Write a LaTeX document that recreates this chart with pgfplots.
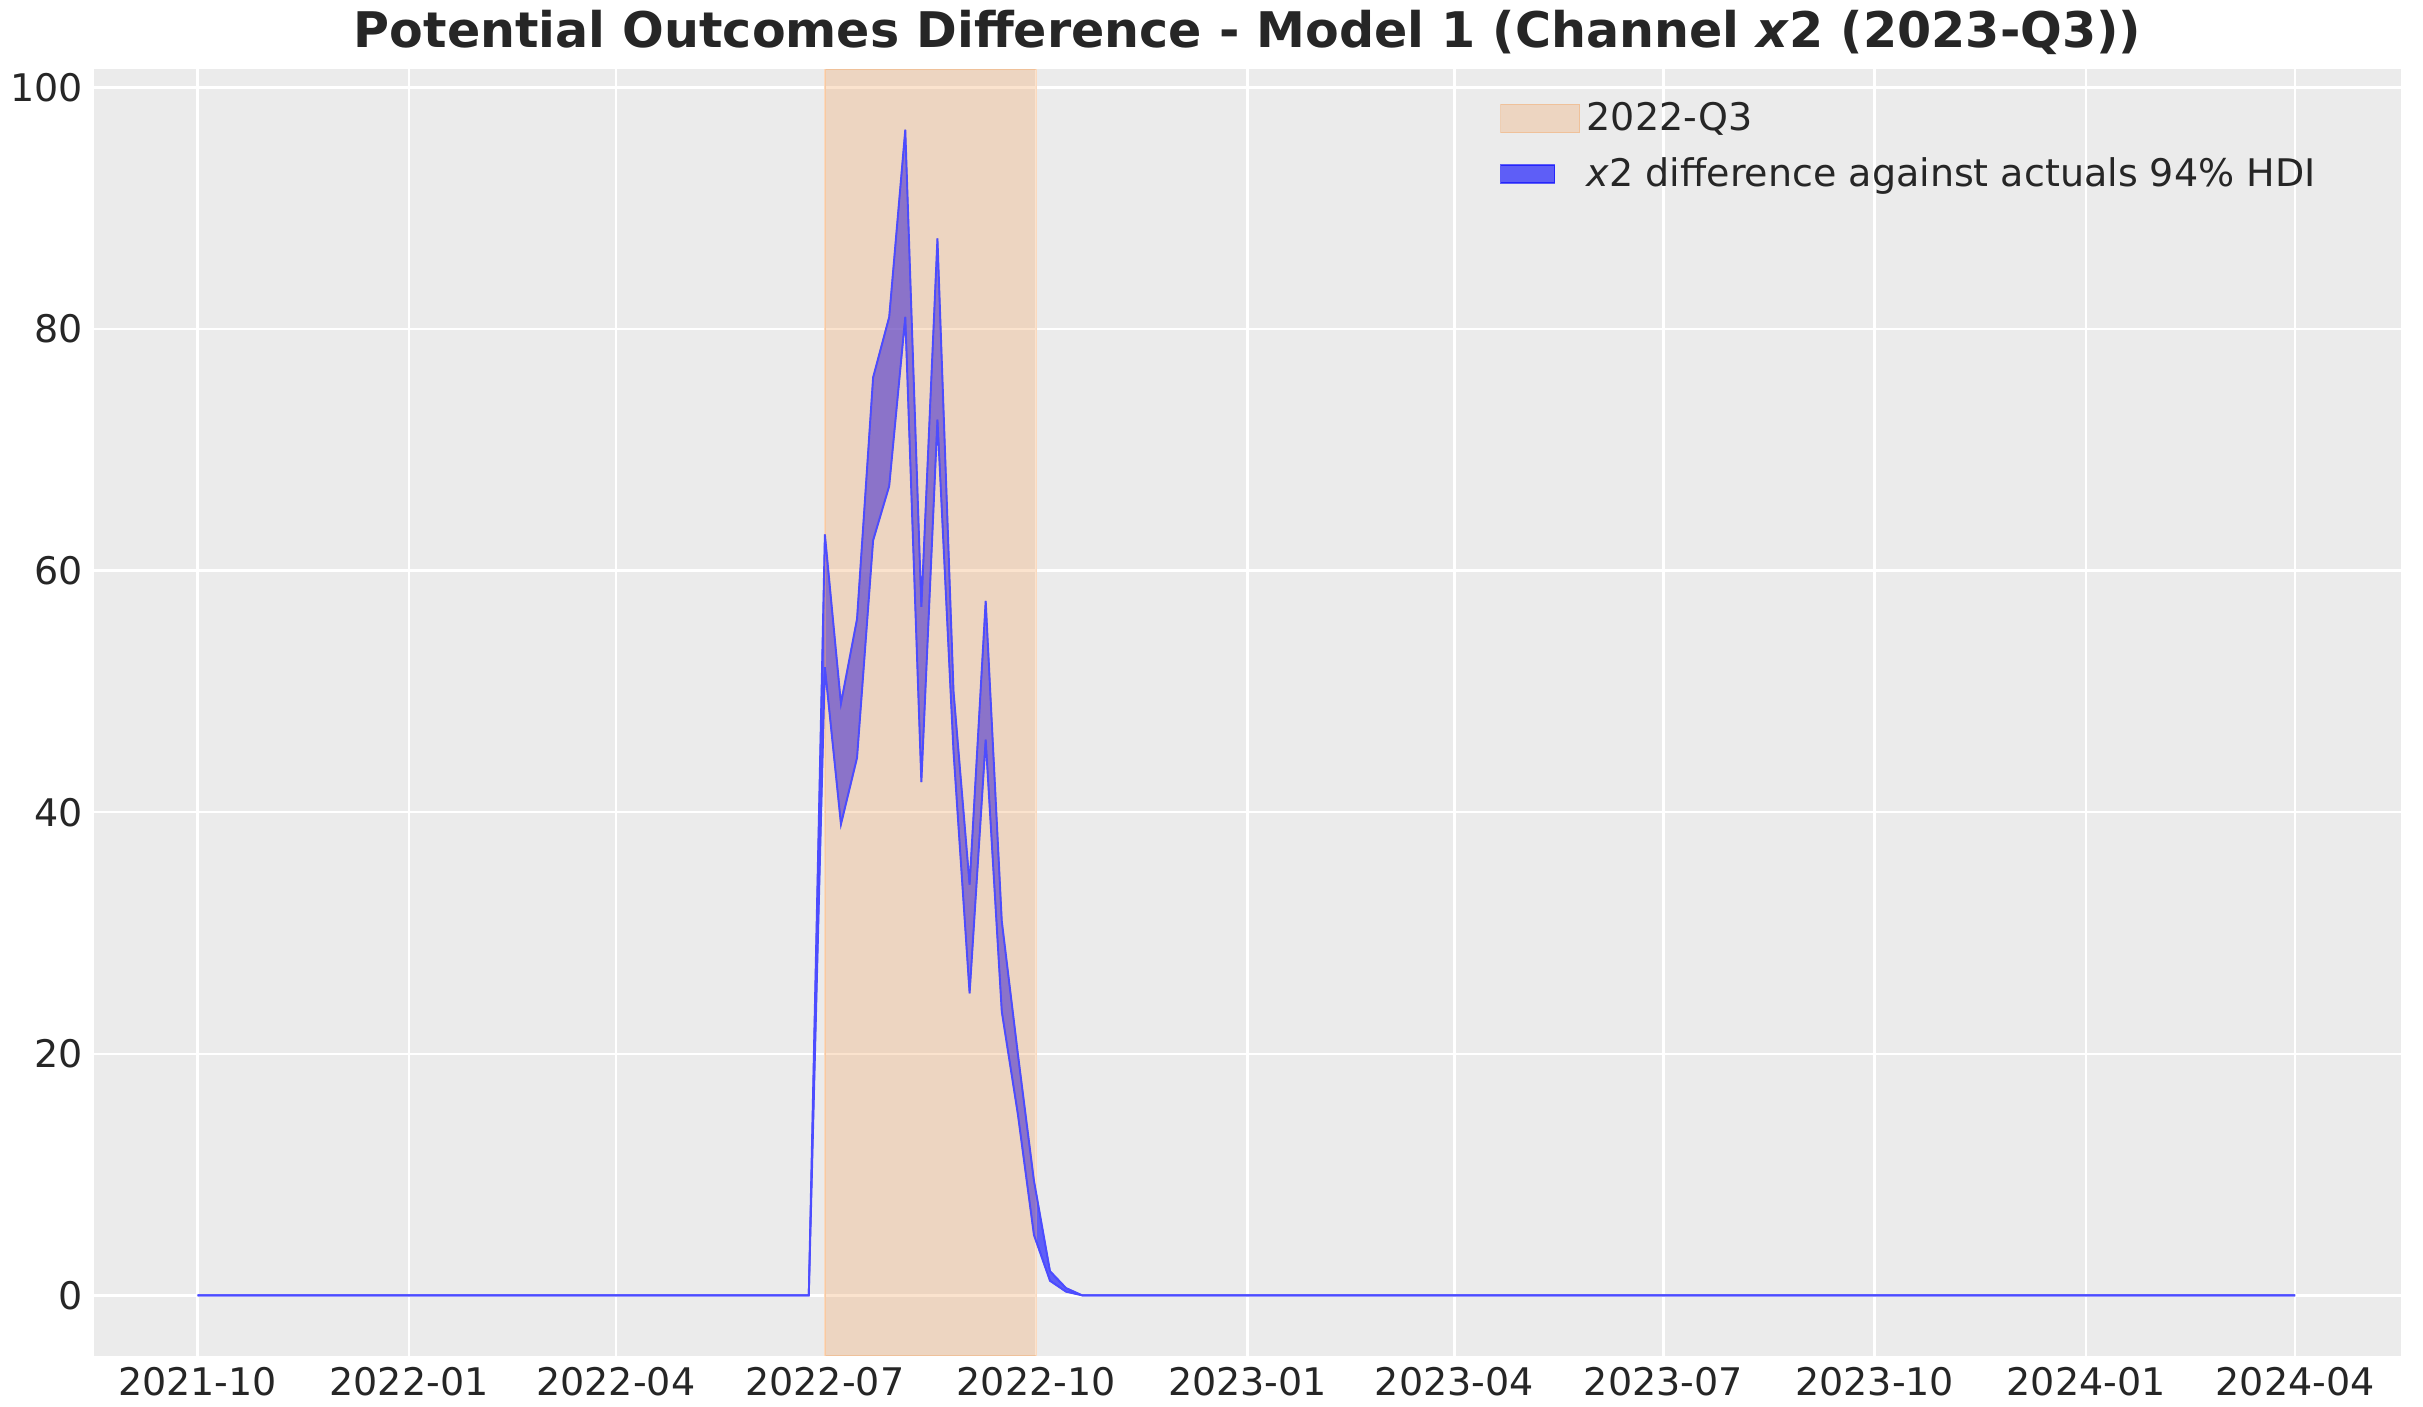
\documentclass[border=0pt]{standalone}
\usepackage{pgfplots}
\pgfplotsset{compat=1.18}
\usepgfplotslibrary{fillbetween}
\usepackage{fontspec}
\setmainfont{DejaVu Sans}
\definecolor{bg}{HTML}{EBEBEB}
\definecolor{qfill}{HTML}{F4A460}
\begin{document}
\begin{tikzpicture}
\begin{axis}[
  scale only axis, width=728pt, height=406pt,
  xmin=-45, xmax=959, ymin=-5, ymax=101.5,
  axis background/.style={fill=bg},
  axis line style={draw=none},
  major tick length=0pt,
  grid=major, grid style={white, line width=0.8pt},
  xtick={0,92,182,273,365,457,547,638,730,822,913},
  xticklabels={2021-10,2022-01,2022-04,2022-07,2022-10,2023-01,2023-04,2023-07,2023-10,2024-01,2024-04},
  ytick={0,20,40,60,80,100},
  tick label style={font=\fontsize{12}{14}\selectfont, text=black!85},
  /pgf/number format/assume math mode=true,
  title={\bfseries Potential Outcomes Difference - Model 1 (Channel \textit{x}2 (2023-Q3))},
  title style={font=\fontsize{15.5}{18}\selectfont, text=black!85, yshift=-5pt},
  legend style={at={(0.605,0.985)}, anchor=north west, draw=none, fill=none,
    font=\fontsize{12}{14}\selectfont, text=black!85, row sep=3pt},
  legend cell align=left,
  legend image code/.code={\draw[#1] (0pt,-4.5pt) rectangle (25pt,4.5pt);},
]
\addplot[fill=qfill, fill opacity=0.3, draw=qfill, draw opacity=0.4]
  coordinates {(273,-5) (273,101.5) (365,101.5) (365,-5)} -- cycle;
\addlegendentry{2022-Q3}
\addplot[name path=up, blue!70, line width=0.6pt, forget plot] coordinates {
(0,0)(266,0)(273,63)(280,49)(287,56)(294,76)(301,81)(308,96.5)(315,57)(322,87.5)(329,50)(336,34)(343,57.5)(350,31)(357,20)(364,9.5)(371,2)(378,0.6)(385,0)(913,0)};
\addplot[name path=lo, blue!70, line width=0.6pt, forget plot] coordinates {
(0,0)(266,0)(273,52)(280,39)(287,44.5)(294,62.5)(301,67)(308,81)(315,42.5)(322,72.5)(329,45)(336,25)(343,46)(350,23.5)(357,15)(364,5)(371,1.2)(378,0.3)(385,0)(913,0)};
\addplot[fill=blue, fill opacity=0.6, draw=blue, draw opacity=0.6] fill between[of=up and lo];
\addlegendentry{\textit{x}2 difference against actuals 94\% HDI}
\end{axis}
\path (current axis.east) ++(7pt,0) coordinate (r);
\end{tikzpicture}
\end{document}
